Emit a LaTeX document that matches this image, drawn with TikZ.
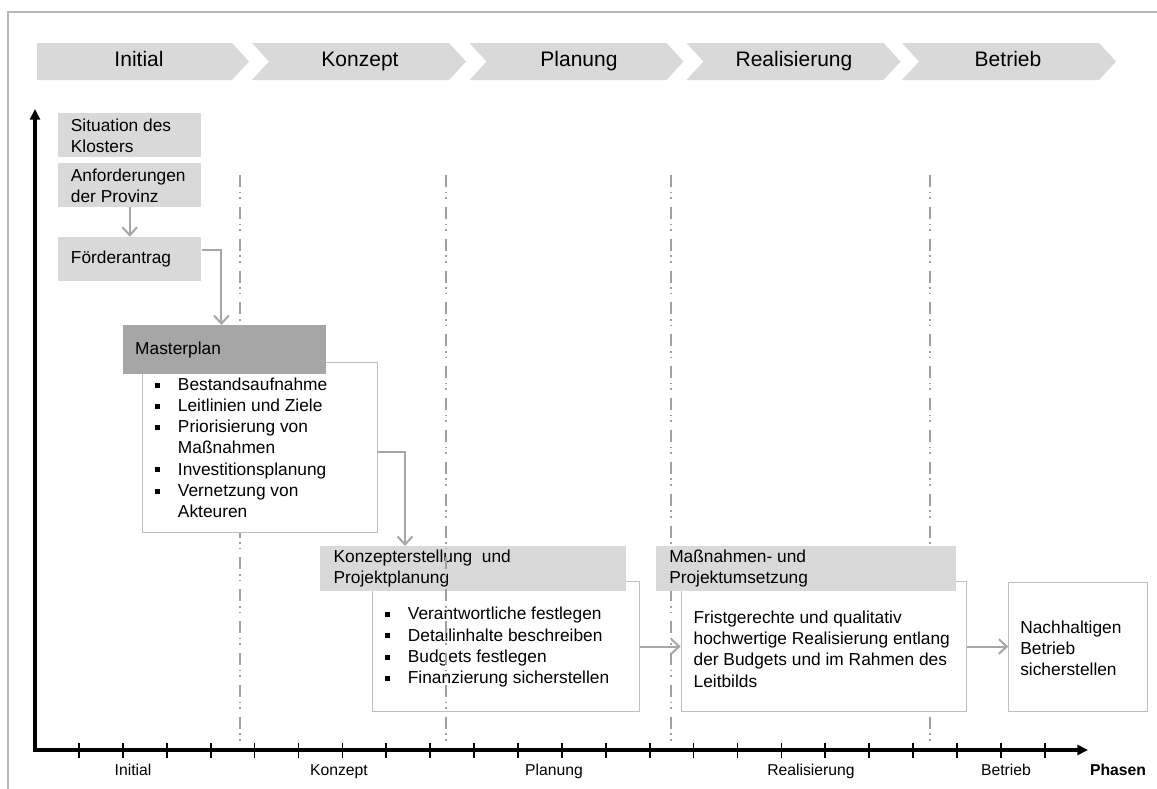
\documentclass[tikz,border=0pt]{standalone}
\usepackage{fontspec}
\setmainfont{Liberation Sans}
\usetikzlibrary{arrows.meta}
\definecolor{chevc}{HTML}{D9D9D9}
\definecolor{hdrc}{HTML}{D9D9D9}
\definecolor{mhdrc}{HTML}{A6A6A6}
\definecolor{bordc}{HTML}{BFBFBF}
\definecolor{connc}{HTML}{A6A6A6}
\definecolor{gridc}{HTML}{A0A0A0}
\definecolor{framec}{HTML}{B8B8B8}
\newcommand\bitem[1]{\makebox[17pt][l]{\rule[0.155em]{0.29em}{0.29em}}#1}
\newcommand\bcont[1]{\hspace*{17pt}#1}
\tikzset{
  chevtext/.style={font=\fontsize{15.75}{19}\selectfont, inner sep=0pt, text height=0.716em, text depth=0pt},
  boxframe/.style={draw=bordc, line width=0.75pt, fill=white, anchor=north west, inner sep=0pt},
  hdrbox/.style={fill=hdrc, anchor=north west, inner sep=0pt},
  mhdrbox/.style={fill=mhdrc, anchor=north west, inner sep=0pt},
  txt/.style={font=\fontsize{13}{15.9}\selectfont, align=left, anchor=west, inner sep=0pt},
  onetxt/.style={font=\fontsize{13}{15.9}\selectfont, anchor=west, inner sep=0pt, text height=0.716em, text depth=0pt},
  conn/.style={draw=connc, line width=1.5pt, -{Straight Barb[length=6pt,width=11pt]}},
  gridl/.style={draw=gridc, line width=1.1pt, dash pattern=on 9pt off 3.5pt on 1.2pt off 3pt on 1.2pt off 6pt},
  axisl/.style={draw=black, line width=2.4pt},
  tickl/.style={draw=black, line width=1.3pt},
  axlabel/.style={font=\fontsize{11.8}{14}\selectfont, inner sep=0pt, text height=0.716em, text depth=0pt},
}
\begin{document}
\begin{tikzpicture}[x=0.75pt,y=-0.75pt]
\useasboundingbox (0,0) rectangle (1157,789);
% frame
\draw[framec, line width=0.9pt] (8,789) -- (8,12) -- (1157,12);
% chevrons
\fill[chevc] (37,43) -- (232,43) -- (249,61.5) -- (232,80) -- (37,80) -- cycle;
\node[chevtext] (c1) at (139,61.5) {Initial};
\foreach \L/\t/\cx [count=\i from 2] in {252/Konzept/360, 469.5/Planung/579, 686.5/Realisierung/794, 902/Betrieb/1008}{
  \fill[chevc] (\L,43) -- ++(197,0) -- ++(17,18.5) -- ++(-17,18.5) -- ++(-197,0) -- ++(17,-18.5) -- cycle;
  \node[chevtext] (c\i) at (\cx,61.5) {\t};
}
% Konzept boxes (grid lines run over them)
\node[boxframe, minimum width=200.25pt, minimum height=97.5pt] (kb) at (372.3,581) {};
\node[hdrbox, minimum width=229.3pt, minimum height=33.75pt] (kh) at (320,546) {};
\node[txt] (khT) at ([xshift=10pt]kh.west) {Konzepterstellung\ \ und\\Projektplanung};
\node[txt] (kbT) at ([xshift=9.5pt,yshift=-0.5pt]kb.west) {\bitem{Verantwortliche festlegen}\\\bitem{Detailinhalte beschreiben}\\\bitem{Budgets festlegen}\\\bitem{Finanzierung sicherstellen}};
% phase grid lines
\foreach \x in {240,446,671,930} \draw[gridl] (\x,175) -- (\x,748);
% left boxes
\node[hdrbox, minimum width=107.25pt, minimum height=33pt] (sit) at (58,112.5) {};
\node[txt] (sitT) at ([xshift=9.5pt,yshift=-0.6pt]sit.west) {Situation des\\Klosters};
\node[hdrbox, minimum width=107.25pt, minimum height=33.4pt] (anf) at (58,162.3) {};
\node[txt] (anfT) at ([xshift=9.5pt,yshift=-0.6pt]anf.west) {Anforderungen\\der Provinz};
\node[hdrbox, minimum width=107.25pt, minimum height=33.2pt] (foe) at (58,236.7) {};
\node[onetxt] (foeT) at ([xshift=9.5pt]foe.west) {Förderantrag};
% Masterplan
\node[boxframe, minimum width=176.25pt, minimum height=127.5pt] (mpb) at (141.7,361.7) {};
\node[mhdrbox, minimum width=152.8pt, minimum height=36.75pt] (mph) at (122.3,325) {};
\node[onetxt] (mphT) at ([xshift=9.5pt]mph.west) {Masterplan};
\node[txt] (mpbT) at ([xshift=10pt,yshift=-0.4pt]mpb.west) {\bitem{Bestandsaufnahme}\\\bitem{Leitlinien und Ziele}\\\bitem{Priorisierung von}\\\bcont{Maßnahmen}\\\bitem{Investitionsplanung}\\\bitem{Vernetzung von}\\\bcont{Akteuren}};
% Massnahmen
\node[boxframe, minimum width=214pt, minimum height=97.5pt] (mb) at (680.7,581) {};
\node[hdrbox, minimum width=224.8pt, minimum height=34.1pt] (mh) at (656,545.5) {};
\node[txt] (mhT) at ([xshift=9.75pt]mh.west) {Maßnahmen- und\\Projektumsetzung};
\node[txt] (mbT) at ([xshift=9.5pt,yshift=-2pt]mb.west) {Fristgerechte und qualitativ\\hochwertige Realisierung entlang\\der Budgets und im Rahmen des\\Leitbilds};
\node[boxframe, minimum width=104.25pt, minimum height=97pt] (nb) at (1008.3,581.7) {};
\node[txt] (nbT) at ([xshift=8.8pt,yshift=-1pt]nb.west) {Nachhaltigen\\Betrieb\\sicherstellen};
% connectors
\draw[conn] (anf) -- (foe);
\draw[conn] ([yshift=6.75pt]foe.east) -| ([xshift=-2.25pt]mph.north);
\draw[conn] ([yshift=-3.75pt]mpb.east) -| ([xshift=63.75pt]kh.north west);
\draw[conn] (kb.east) -- (kb.east -| mb.west);
\draw[conn] (mb.east) -- (mb.east -| nb.west);
% axes
\coordinate (ytop) at (35,109);
\coordinate (xend) at (1088,750);
\draw[axisl, {Triangle[length=8pt,width=7.5pt]}-{Triangle[length=8pt,width=7.5pt]}] (ytop) |- (xend);
\foreach \k in {0,...,22} \draw[tickl] ({79+43.9*\k},743) -- ({79+43.9*\k},758);
\node[axlabel] (a1) at (133,771) {Initial};
\node[axlabel] (a2) at (339,771) {Konzept};
\node[axlabel] (a3) at (554,771) {Planung};
\node[axlabel] (a4) at (811,771) {Realisierung};
\node[axlabel] (a5) at (1006,771) {Betrieb};
\node[axlabel, font=\fontsize{11.8}{14}\selectfont\bfseries] (a6) at (1118,771) {Phasen};
\end{tikzpicture}
\end{document}
